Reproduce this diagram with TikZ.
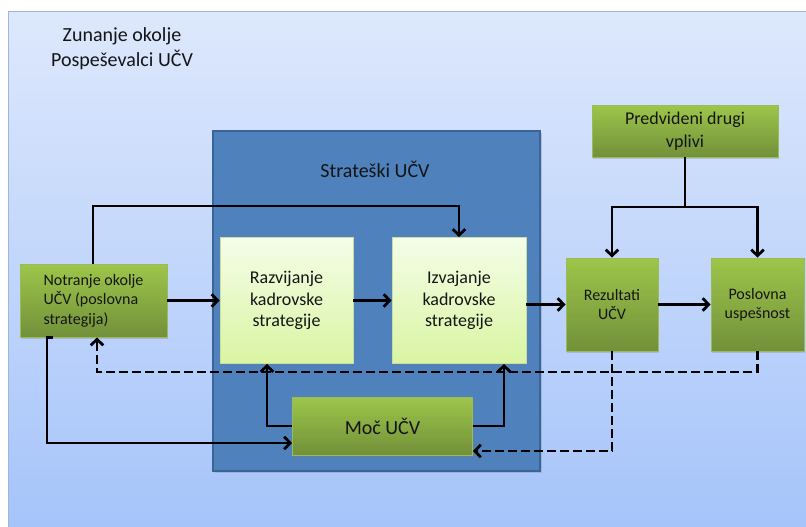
\documentclass[tikz,border=0pt]{standalone}
\usepackage{fontspec}
\setmainfont{Carlito}
\usetikzlibrary{arrows.meta,calc,shadows}

\definecolor{bgtop}{HTML}{DDE8FC}
\definecolor{bgbot}{HTML}{A6C4FA}
\definecolor{bgedge}{HTML}{9FB6DA}
\definecolor{stratfill}{HTML}{4F81BD}
\definecolor{stratedge}{HTML}{3A659A}
\definecolor{lighttop}{HTML}{F5FDE8}
\definecolor{lightbot}{HTML}{D9F5A2}
\definecolor{lightedge}{HTML}{C9DD9E}
\definecolor{greentop}{HTML}{9DC64A}
\definecolor{greenbot}{HTML}{72903A}
\definecolor{greenedge}{HTML}{9BBB59}
\definecolor{ink}{HTML}{151515}

\tikzset{
  stratbox/.style={draw=stratedge, line width=1.2pt, fill=stratfill,
    drop shadow={shadow xshift=1.5pt, shadow yshift=-1.5pt, opacity=0.3}},
  lightbox/.style={draw=lightedge, line width=0.8pt, top color=lighttop, bottom color=lightbot,
    align=center, text=ink, font=\fontsize{18}{21.6}\selectfont,
    drop shadow={shadow xshift=1.2pt, shadow yshift=-1.5pt, opacity=0.25}},
  greenbox/.style={draw=greenedge, line width=0.8pt, top color=greentop, bottom color=greenbot,
    align=center, text=ink, font=\fontsize{16}{19.5}\selectfont,
    drop shadow={shadow xshift=1.2pt, shadow yshift=-1.5pt, opacity=0.3}},
  conn/.style={draw=black, line width=2.8pt, -{Straight Barb[length=6pt,width=12.5pt]}},
  plainline/.style={draw=black, line width=2.8pt},
  dconn/.style={conn, dash pattern=on 9pt off 4pt}
}

\begin{document}
\begin{tikzpicture}[x=1pt,y=-1pt]
\useasboundingbox (0,0) rectangle (806,527);
\fill[white] (0,0) rectangle (806,527);
% outer environment panel
\shade[top color=bgtop, bottom color=bgbot] (8,12) rectangle (806,527);
\draw[bgedge, line width=1pt] (8,527) -- (8,12) -- (806,12);

\node[align=center, text=ink, font=\fontsize{20}{25}\selectfont] (zun) at (122,49)
  {Zunanje okolje\\Pospeševalci UČV};

% strategic block
\node[stratbox, minimum width=327, minimum height=340] (strat) at (376.5,301) {};
\node[text=ink, font=\fontsize{20}{24}\selectfont] (stratlbl) at (375,169) {Strateški UČV};

% boxes
\node[lightbox, minimum width=133, minimum height=126] (raz) at (286.5,300.5)
  {Razvijanje\\kadrovske\\strategije};
\node[lightbox, minimum width=134, minimum height=126] (izv) at (459,300.5)
  {Izvajanje\\kadrovske\\strategije};
\node[greenbox, align=left, minimum width=147, minimum height=73] (not) at (93.5,300.5)
  {Notranje okolje\\UČV (poslovna\\strategija)};
\node[greenbox, minimum width=92, minimum height=93] (rez) at (612,304.5)
  {Rezultati\\UČV};
\node[greenbox, minimum width=93, minimum height=93] (pos) at (757.5,304.5)
  {Poslovna\\uspešnost};
\node[greenbox, font=\fontsize{18}{23}\selectfont, minimum width=186, minimum height=52] (pre) at (685,131)
  {Predvideni drugi\\vplivi};
\node[greenbox, font=\fontsize{20}{24}\selectfont, minimum width=180, minimum height=58] (moc) at (382.5,426)
  {Moč UČV};

% bend points
\coordinate (b1) at (93,206);
\coordinate (b2) at (685,207);
\coordinate (b3) at (267,426);
\coordinate (b4) at (504,426);
\coordinate (b5) at (47,443);
\coordinate (d1) at (97,372);
\coordinate (d2) at (612,451);

% solid connectors
\draw[conn] (not.north -| b1) -- (b1) -| (izv.north);
\draw[conn] (not.east) -- (raz.west);
\draw[conn] (raz.east) -- (izv.west);
\draw[conn] (izv.east |- rez.west) -- (rez.west);
\draw[conn] (rez.east) -- (pos.west);
\draw[plainline] (pre.south) -- (b2);
\draw[conn] (b2) -| (rez.north);
\draw[conn] (b2) -| (pos.north);
\draw[conn] (moc.west) -- (b3) -- (b3 |- raz.south);
\draw[conn] (moc.east) -- (b4) -- (b4 |- izv.south);
\draw[conn] ($(not.south west)+(33,0)$) -| (b5) -- (b5 -| moc.west);

% dashed feedback connectors
\draw[dconn] (pos.south) |- (d1) -- (d1 |- not.south);
\draw[dconn] (rez.south) -- (d2) -- (d2 -| moc.east);
\end{tikzpicture}
\end{document}
